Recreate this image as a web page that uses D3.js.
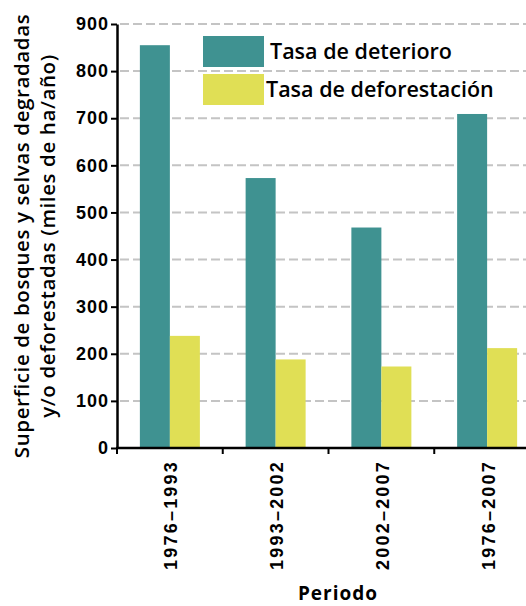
<!DOCTYPE html>
<html>
<head>
<meta charset="utf-8">
<script src="https://cdn.jsdelivr.net/npm/d3@7"></script>
<style>
  body { margin: 0; background: #fff; }
  svg { display: block; font-family: "Open Sans", "Noto Sans", sans-serif; }
</style>
</head>
<body>
<svg id="chart" width="526" height="606"></svg>
<script>
var periods = ['1976–1993', '1993–2002', '2002–2007', '1976–2007'];
var series = ['Tasa de deterioro', 'Tasa de deforestación'];
var deterioro = [855, 573, 468, 709];
var deforestacion = [238, 188, 173, 212];
var yTicks = [0, 100, 200, 300, 400, 500, 600, 700, 800, 900];
var colors = ['#3f9291', '#e0df55'];

var svg = d3.select('#chart');

var mLeft = 117, mRight = 540, mTop = 24, mBottom = 448;

var x0 = d3.scaleBand()
    .domain(periods)
    .range([mLeft, mRight])
    .padding(0);

var x1 = d3.scaleBand()
    .domain(series)
    .range([0, x0.bandwidth()])
    .paddingInner(0)
    .paddingOuter(0.7625);

var y = d3.scaleLinear()
    .domain([0, 900])
    .range([mBottom, mTop]);

var color = d3.scaleOrdinal().domain(series).range(colors);

// gridlines
svg.append('g')
    .selectAll('line')
    .data(yTicks.slice(1))
    .enter()
    .append('line')
    .attr('x1', mLeft + 3)
    .attr('x2', 526)
    .attr('y1', function(d) { return y(d); })
    .attr('y2', function(d) { return y(d); })
    .attr('stroke', '#c4c4c4')
    .attr('stroke-width', 2)
    .attr('stroke-dasharray', '9,4');

// bars
var rows = periods.map(function(p, i) {
    return [
        { period: p, key: series[0], value: deterioro[i] },
        { period: p, key: series[1], value: deforestacion[i] }
    ];
});

svg.append('g')
    .selectAll('g')
    .data(rows)
    .enter()
    .append('g')
    .attr('transform', function(d) { return 'translate(' + x0(d[0].period) + ',0)'; })
    .selectAll('rect')
    .data(function(d) { return d; })
    .enter()
    .append('rect')
    .attr('x', function(d) { return x1(d.key); })
    .attr('width', x1.bandwidth())
    .attr('y', function(d) { return y(d.value); })
    .attr('height', function(d) { return y(0) - y(d.value); })
    .attr('fill', function(d) { return color(d.key); });

// y axis
var yAxis = svg.append('g')
    .attr('transform', 'translate(' + mLeft + ',0)')
    .call(d3.axisLeft(y).tickValues(yTicks).tickSize(6).tickSizeOuter(0).tickPadding(2));

yAxis.select('.domain').attr('stroke', '#000').attr('stroke-width', 2.5);
yAxis.selectAll('.tick line').attr('stroke', '#000').attr('stroke-width', 2);
yAxis.selectAll('.tick text')
    .attr('fill', '#000')
    .style('font-size', '18px')
    .style('font-weight', 700)
    .style('letter-spacing', '1px');

// x axis
var xAxis = svg.append('g')
    .attr('transform', 'translate(0,' + mBottom + ')')
    .call(d3.axisBottom(x0).tickSize(0).tickSizeOuter(0));

xAxis.select('.domain').remove();
xAxis.append('line')
    .attr('x1', mLeft - 1)
    .attr('x2', 526)
    .attr('stroke', '#000')
    .attr('stroke-width', 2.5);

xAxis.selectAll('.tick text')
    .attr('fill', '#000')
    .attr('transform', 'rotate(-90)')
    .attr('text-anchor', 'end')
    .attr('x', -12)
    .attr('y', 1)
    .attr('dy', '0.36em')
    .style('font-size', '18px')
    .style('font-weight', 700)
    .style('letter-spacing', '2.2px');

xAxis.selectAll('line.bound')
    .data(periods)
    .enter()
    .append('line')
    .attr('class', 'bound')
    .attr('x1', function(d) { return x0(d); })
    .attr('x2', function(d) { return x0(d); })
    .attr('y1', 0)
    .attr('y2', 6)
    .attr('stroke', '#000')
    .attr('stroke-width', 2);

// axis titles
var yTitle = svg.append('text')
    .attr('transform', 'translate(0,236) rotate(-90)')
    .attr('text-anchor', 'middle')
    .style('font-size', '20.5px')
    .style('font-weight', 600)
    .style('letter-spacing', '0.6px')
    .attr('fill', '#000');
yTitle.append('tspan').attr('x', 0).attr('y', 29).text('Superficie de bosques y selvas degradadas');
yTitle.append('tspan').attr('x', 0).attr('y', 55).text('y/o deforestadas (miles de ha/año)');

svg.append('text')
    .attr('x', 338)
    .attr('y', 600)
    .attr('text-anchor', 'middle')
    .style('font-size', '19px')
    .style('font-weight', 700)
    .style('letter-spacing', '1px')
    .attr('fill', '#000')
    .text('Periodo');

// legend
var legend = svg.append('g')
    .selectAll('g')
    .data(series)
    .enter()
    .append('g')
    .attr('transform', function(d, i) { return 'translate(203,' + (36 + i * 38) + ')'; });

legend.append('rect')
    .attr('width', 61)
    .attr('height', 31)
    .attr('fill', function(d) { return color(d); });

legend.append('text')
    .attr('x', function(d, i) { return i === 0 ? 67 : 63; })
    .attr('y', 23)
    .style('font-size', '21.5px')
    .style('font-weight', 600)
    .attr('fill', '#000')
    .text(function(d) { return d; });
</script>
</body>
</html>
